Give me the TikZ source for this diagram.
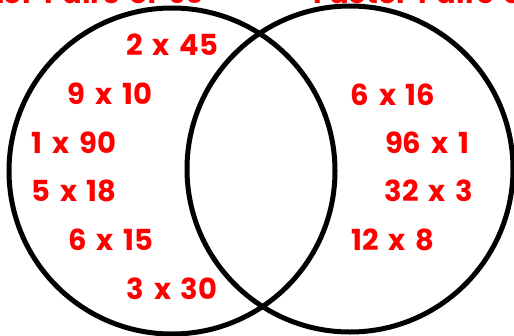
\documentclass[tikz,border=0pt]{standalone}
\usepackage{fontspec}
\setmainfont{Poppins}[WordSpace=1.6]
\usetikzlibrary{positioning}
\tikzset{
    conjunto/.style={circle, draw, line width=5pt, inner sep=0pt, minimum size=326pt},
    par/.style={text=red, font=\fontsize{29}{29}\selectfont\bfseries, inner sep=0pt},
    titulo/.style={par}
}

\begin{document}
\begin{tikzpicture}[x=1pt, y=-1pt]
        \useasboundingbox (0,0) rectangle (514,335);
        \clip (0,0) rectangle (514,335);
        \node[conjunto] (setA) at (172,171) {};
        \node[conjunto] (setB) at (350,169) {};
        % titulos (cortados em cima)
        \node[titulo, anchor=base east] (titA) at (205,3) {Factor Pairs of 90};
        \node[titulo, anchor=base west] (titB) at (313,3) {Factor Pairs of 96};
        % pares de 90
        \node[par] (p245) at (172,45) {2 x 45};
        \node[par] (p910) at (110,94) {9 x 10};
        \node[par] (p190) at (74,143) {1 x 90};
        \node[par] (p518) at (74,191) {5 x 18};
        \node[par] (p615) at (111,240) {6 x 15};
        \node[par] (p330) at (172,289) {3 x 30};
        % pares de 96
        \node[par] (p616) at (393,95) {6 x 16};
        \node[par] (p961) at (427,143) {96 x 1};
        \node[par] (p323) at (429,191) {32 x 3};
        \node[par] (p128) at (393,240) {12 x 8};
    \end{tikzpicture}
\end{document}
